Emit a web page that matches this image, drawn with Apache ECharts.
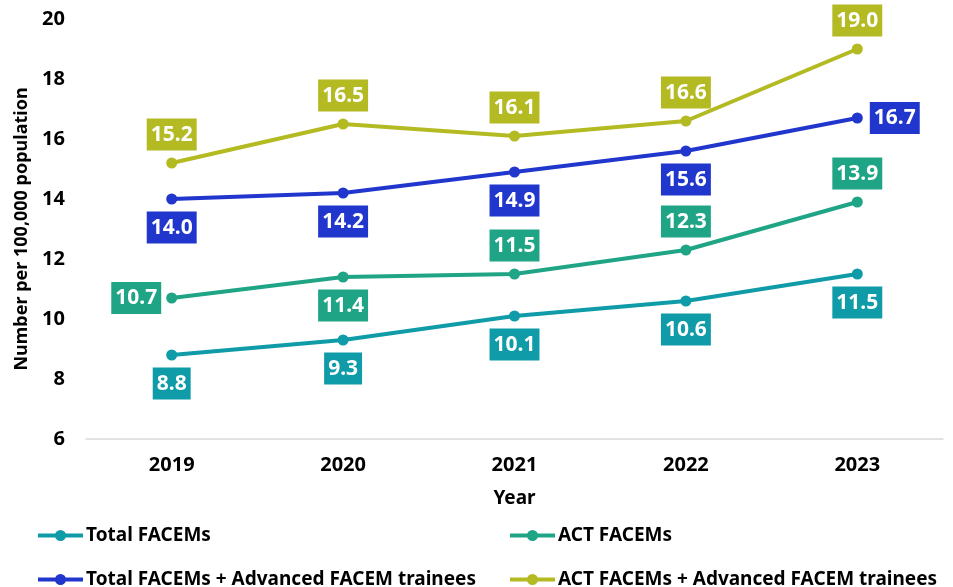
<!DOCTYPE html>
<html><head><meta charset="utf-8">
<script src="https://cdn.jsdelivr.net/npm/echarts@6/dist/echarts.min.js"></script>
<style>html,body{margin:0;padding:0;background:#fff}#c{width:953px;height:587px}</style>
</head><body><div id="c"></div>
<script>
const years = ['2019','2020','2021','2022','2023'];
const totalFACEMs = [8.8, 9.3, 10.1, 10.6, 11.5];
const actFACEMs = [10.7, 11.4, 11.5, 12.3, 13.9];
const totalPlusTrainees = [14.0, 14.2, 14.9, 15.6, 16.7];
const actPlusTrainees = [15.2, 16.5, 16.1, 16.6, 19.0];
const yTicks = [6, 8, 10, 12, 14, 16, 18, 20];

const FONT = '"Noto Sans", "Open Sans", sans-serif';
const C1 = '#0f9ba7', C2 = '#1fa585', C3 = '#2136cc', C4 = '#b3ba22';
const names = ['Total FACEMs','ACT FACEMs','Total FACEMs + Advanced FACEM trainees','ACT FACEMs + Advanced FACEM trainees'];

function mk(name, color, data, positions){
  return {
    name, type:'line', data: data.map((v,i)=>({value:v, label:{position:positions[i], distance: positions[i]==='left'?5:7}})),
    color, lineStyle:{width:4, color}, symbol:'circle', symbolSize:11, itemStyle:{color},
    label:{show:true, formatter:p=>p.value.toFixed(1), color:'#fff', backgroundColor:color,
      fontFamily:FONT, fontWeight:'bold', fontSize:21, lineHeight:21, padding:[6,4,5,4]},
    z: 3
  };
}
const legendBase = {orient:'horizontal', icon:'path://M0,-2 L45,-2 L45,2 L0,2 Z M22.5,-5.5 A5.5,5.5 0 1 1 22.49,-5.5 Z', itemWidth:45, itemHeight:12, itemGap:10,
  textStyle:{fontFamily:FONT, fontWeight:'bold', fontSize:19, color:'#000', padding:[0,0,0,-2]}, selectedMode:false};

const chart = echarts.init(document.getElementById('c'), null, {renderer:'canvas'});
chart.setOption({
  animation:false,
  grid:{left:86, right:10, top:19, bottom:148},
  legend:[
    Object.assign({}, legendBase, {left:33, top:521, data:[names[0]]}),
    Object.assign({}, legendBase, {left:33, top:565, data:[names[2]]}),
    Object.assign({}, legendBase, {left:505, top:521, data:[names[1]]}),
    Object.assign({}, legendBase, {left:505, top:565, data:[names[3]]})
  ],
  xAxis:{type:'category', data:years, name:'Year', nameLocation:'middle', nameGap:50,
    nameTextStyle:{fontFamily:FONT, fontWeight:'bold', fontSize:19, color:'#000'},
    axisLine:{lineStyle:{color:'#d9d9d9', width:1.5}}, axisTick:{show:false},
    axisLabel:{fontFamily:FONT, fontWeight:'bold', fontSize:20, color:'#000', margin:16}},
  yAxis:{type:'value', min:6, max:20, interval:2, name:'Number per 100,000 population', nameLocation:'middle', nameGap:55,
    nameTextStyle:{fontFamily:FONT, fontWeight:'bold', fontSize:18, color:'#000'},
    axisLine:{show:false}, axisTick:{show:false}, splitLine:{show:false},
    axisLabel:{fontFamily:FONT, fontWeight:'bold', fontSize:20, color:'#000', margin:21,
      formatter:v=>yTicks.includes(v)?String(v):''}},
  series:[
    mk(names[0], C1, totalFACEMs, ['bottom','bottom','bottom','bottom','bottom']),
    mk(names[1], C2, actFACEMs, ['left','bottom','top','top','top']),
    mk(names[2], C3, totalPlusTrainees, ['bottom','bottom','bottom','bottom','right']),
    mk(names[3], C4, actPlusTrainees, ['top','top','top','top','top'])
  ]
});
</script></body></html>
